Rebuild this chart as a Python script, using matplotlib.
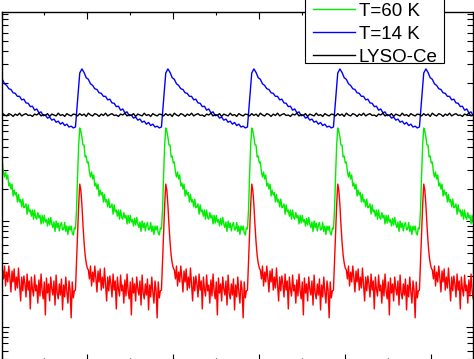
import numpy as np
import matplotlib
matplotlib.use('Agg')
import matplotlib.pyplot as plt
from matplotlib.patches import Rectangle
from matplotlib.ticker import MultipleLocator, LogLocator, NullFormatter

plt.rcParams['font.family'] = ['Liberation Sans', 'DejaVu Sans']

# Definitions
period = 10.0    # ns between excitation pulses
onset = 8.6      # ns, start of first full pulse
periods = range(-1, 5)

# One period of each trace, starting at the pulse onset
# red / green sampled every 0.125 ns
red_300K = [2.23, 4.11, 7.88, 14.2, 22.3, 19.6, 14.2, 9.17, 6.34, 4.78,
            4.02, 3.60, 3.45, 2.84, 3.76, 2.44, 3.30, 2.66, 3.76, 2.90,
            2.14, 3.38, 2.66, 3.53, 2.23, 2.96, 2.33, 3.60, 2.55, 1.76,
            2.96, 2.19, 3.03, 2.55, 1.92, 3.16, 2.23, 2.72, 1.48, 2.96,
            2.28, 1.96, 3.09, 2.19, 2.49, 1.68, 2.78, 1.96, 3.16, 2.19,
            1.84, 2.66, 1.30, 2.90, 2.09, 2.55, 1.76, 2.96, 2.28, 2.00,
            2.72, 1.61, 3.09, 2.09, 1.84, 2.55, 2.00, 2.84, 1.45, 2.49,
            1.92, 2.96, 2.14, 1.68, 2.72, 2.23, 1.22, 2.66, 1.88, 2.19]
green_60K = [8.41, 12.7, 27.2, 52.1, 75.4, 70.7, 62.0, 52.1, 52.1, 40.2,
             41.0, 35.3, 36.0, 29.0, 26.0, 29.0, 24.9, 27.2, 21.4, 22.8,
             20.0, 22.3, 17.2, 19.6, 17.6, 18.6, 15.1, 17.8, 15.1, 15.9,
             13.6, 16.1, 13.3, 13.6, 14.5, 11.6, 14.2, 12.2, 12.7, 11.1,
             12.7, 10.4, 12.7, 10.8, 10.4, 12.0, 10.7, 11.3, 9.37, 11.3,
             9.57, 11.3, 9.79, 10.3, 8.97, 10.6, 9.17, 10.8, 9.37, 8.68,
             9.79, 7.96, 10.0, 8.68, 9.57, 8.05, 9.17, 9.68, 8.22, 8.41,
             9.68, 7.96, 8.97, 7.46, 8.97, 8.22, 8.97, 7.70, 7.38, 8.59]
# blue / black sampled every 0.25 ns
blue_14K = [77.1, 138.6, 249, 272, 252, 225, 217, 197, 190, 177,
            174, 162, 160, 150, 150, 139, 141, 130, 129, 120,
            121, 111, 114, 105, 107, 98.5, 100, 93.5, 95.5, 89.5,
            91.5, 85.5, 87.5, 82.0, 85.0, 79.5, 82.0, 77.0, 78.5, 75.5]
lyso_ce = [101, 98, 103, 99, 102, 97, 104, 100, 98, 103,
           101, 97, 102, 99, 104, 98, 101, 103, 99, 100,
           97, 102, 100, 104, 98, 101, 99, 103, 97, 102,
           100, 98, 104, 99, 101, 97, 103, 100, 98, 102]

labels = ['T=300 K', 'T=60 K', 'T=14 K', 'LYSO-Ce']
colors = ['#ff0000', '#00ee00', '#0000ff', '#000000']


def repeat_pulses(trace):
    # lay the single period down once per excitation pulse
    dt = period / len(trace)
    t = np.concatenate([onset + k * period + dt * np.arange(len(trace))
                        for k in periods])
    return t, np.tile(trace, len(periods))


fig = plt.figure(figsize=(4.74, 3.59), dpi=100)
ax = fig.add_axes([1.5 / 474, -1.5 / 359, 471 / 474, 348.5 / 359])

for trace, lab, col in zip([red_300K, green_60K, blue_14K, lyso_ce], labels, colors):
    t, y = repeat_pulses(trace)
    ax.plot(t, y, color=col, lw=1.0, label=lab)

ax.set_yscale('log')
ax.set_xlim(0, 54.77)
ax.set_ylim(0.483, 937)

ax.xaxis.set_major_locator(MultipleLocator(10))
ax.xaxis.set_minor_locator(MultipleLocator(5))
ax.yaxis.set_major_locator(LogLocator(base=10, numticks=20))
ax.yaxis.set_minor_locator(LogLocator(base=10, subs=np.arange(2, 10), numticks=20))
ax.yaxis.set_minor_formatter(NullFormatter())

ax.tick_params(which='both', direction='in', top=True, right=True,
               labelbottom=False, labelleft=False, width=0.8, color='black')
ax.tick_params(which='major', length=5)
ax.tick_params(axis='x', which='minor', length=2.5)
ax.tick_params(axis='y', which='minor', length=4)
for sp in ax.spines.values():
    sp.set_linewidth(1.0)

# legend box (top of it runs off the figure)
ax.add_patch(Rectangle((305 / 474, 296.3 / 359), 139 / 474, 100 / 359,
                       transform=fig.transFigure, facecolor='white',
                       edgecolor='black', lw=0.8, zorder=4, clip_on=False))
leg = ax.legend(loc='lower left', bbox_to_anchor=(313 / 474, 293.3 / 359),
                bbox_transform=fig.transFigure, fontsize=13.5, frameon=False,
                borderaxespad=0, borderpad=0, handlelength=2.24,
                handletextpad=0.21, labelspacing=0.31)
leg.set_zorder(5)

fig.savefig('out.png', dpi=100)
